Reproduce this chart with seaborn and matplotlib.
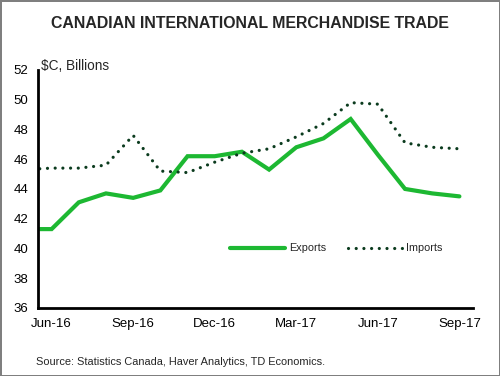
import numpy as np
import pandas as pd
import matplotlib
matplotlib.use('Agg')
import matplotlib.pyplot as plt
import seaborn as sns

# Monthly values, $C billions (May-16 is only half shown at the left edge)
months = ['May-16', 'Jun-16', 'Jul-16', 'Aug-16', 'Sep-16', 'Oct-16', 'Nov-16', 'Dec-16',
          'Jan-17', 'Feb-17', 'Mar-17', 'Apr-17', 'May-17', 'Jun-17', 'Jul-17',
          'Aug-17', 'Sep-17']
exports = [41.3, 41.3, 43.1, 43.7, 43.4, 43.9, 46.2, 46.2,
           46.5, 45.3, 46.8, 47.4, 48.7, 46.3, 44.0, 43.7, 43.5]
imports = [45.3, 45.4, 45.4, 45.6, 47.6, 45.2, 45.1, 45.8,
           46.4, 46.7, 47.5, 48.4, 49.8, 49.7, 47.1, 46.8, 46.7]
tick_labels = ['Jun-16', 'Sep-16', 'Dec-16', 'Mar-17', 'Jun-17', 'Sep-17']

sns.set_style('white')
plt.rcParams['font.family'] = ['Liberation Sans', 'DejaVu Sans']

df = pd.DataFrame({'month': months, 'Exports': exports, 'Imports': imports})
df['x'] = np.arange(len(df)) - 1  # Jun-16 = 0

fig = plt.figure(figsize=(5, 3.76), dpi=100)
fig.patch.set_edgecolor('#7f7f7f')
fig.patch.set_linewidth(2)
ax = fig.add_axes([0.076, 0.181, 0.870, 0.633])

sns.lineplot(data=df, x='x', y='Exports', ax=ax, color='#1db832', lw=3.0,
             label='Exports', solid_joinstyle='miter')
sns.lineplot(data=df, x='x', y='Imports', ax=ax, color='#0b3b1e', lw=2.3,
             linestyle=(0, (0.01, 2.4)), dash_capstyle='round', label='Imports')

ax.set_xlim(-0.5, 15.5)
ax.set_ylim(36, 52)
ax.set_yticks(range(36, 53, 2))
ax.set_xticks(df['x'][df['month'].isin(tick_labels)])
ax.set_xticklabels(tick_labels)
ax.tick_params(axis='both', length=0, labelsize=9.5, colors='#000000')
ax.tick_params(axis='x', pad=7)
ax.tick_params(axis='y', pad=7)
ax.set_xlabel('')
ax.set_ylabel('')
sns.despine(ax=ax)
for side in ['left', 'bottom']:
    ax.spines[side].set_linewidth(2)
    ax.spines[side].set_color('black')

ax.legend(loc='center left', bbox_to_anchor=(0.42, 0.25), ncol=2, frameon=False,
          fontsize=7.8, handlelength=5.0, columnspacing=2.0, handletextpad=0.4)

fig.text(0.5, 0.937, 'CANADIAN INTERNATIONAL MERCHANDISE TRADE', ha='center', va='center',
         fontsize=11.4, fontweight='bold')
fig.text(0.082, 0.813, '$C, Billions', ha='left', va='baseline', fontsize=9.8)
fig.text(0.072, 0.038, 'Source: Statistics Canada, Haver Analytics, TD Economics.',
         ha='left', va='center', fontsize=7.9)

fig.savefig('out.png', dpi=100)
